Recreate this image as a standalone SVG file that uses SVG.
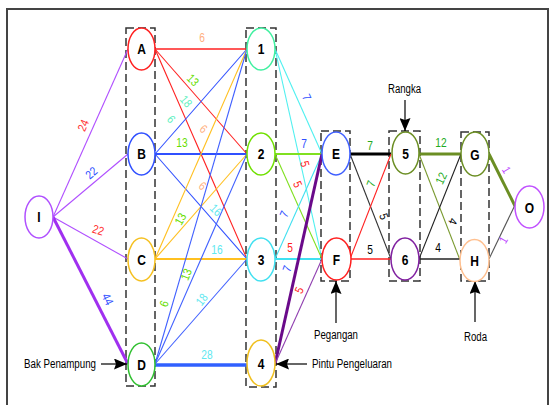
<svg xmlns="http://www.w3.org/2000/svg" width="551" height="405" viewBox="0 0 551 405">
<style>
.nd{fill:#fff;stroke-width:1.5}
.nt{font-family:"Liberation Sans",Arial,sans-serif;font-weight:bold;font-size:15px;text-anchor:middle;fill:#000}
.lb{font-family:"Liberation Sans",Arial,sans-serif;font-size:12px;text-anchor:middle}
.an{font-family:"Liberation Sans",Arial,sans-serif;font-size:12px;fill:#000}
.box{fill:none;stroke:#333;stroke-width:1.5;stroke-dasharray:8 4}
.e{fill:none;stroke-width:1.1}
.m{stroke-width:1.8}
.t{stroke-width:3}
.ar{stroke:#000;stroke-width:1.2}
</style>
<defs>
<marker id="ah" markerWidth="13" markerHeight="11" refX="13" refY="5.5" orient="auto" markerUnits="userSpaceOnUse"><path d="M0,0 L13,5.5 L0,11 L2,5.5 Z" fill="#000"/></marker>
</defs>
<rect x="0" y="0" width="551" height="405" fill="#fff"/>
<rect x="7" y="9" width="541" height="410" fill="none" stroke="#444" stroke-width="2"/>

<g id="groups">
<rect class="box" x="126" y="28" width="29" height="358"/>
<rect class="box" x="246" y="28" width="30" height="359"/>
<rect class="box" x="321" y="131" width="29" height="150"/>
<rect class="box" x="389" y="131" width="31" height="150"/>
<rect class="box" x="461" y="132" width="28" height="149"/>
</g>

<g id="connectors">
<line class="e" x1="53" y1="217" x2="128" y2="49" stroke="#b050ff"/>
<line class="e" x1="53" y1="217" x2="128" y2="154" stroke="#b050ff"/>
<line class="e" x1="53" y1="217" x2="128" y2="259" stroke="#b050ff"/>
<line class="e t" x1="53" y1="217" x2="128" y2="364" stroke="#a030f0"/>
<line class="e" x1="155" y1="49" x2="247" y2="49" stroke="#ff2020" style="stroke-width:1.5"/>
<line class="e" x1="155" y1="49" x2="247" y2="154" stroke="#ff2020"/>
<line class="e" x1="155" y1="49" x2="247" y2="259" stroke="#ff2020"/>
<line class="e" x1="155" y1="154" x2="247" y2="49" stroke="#3050ff"/>
<line class="e m" x1="155" y1="154" x2="247" y2="154" stroke="#3050ff"/>
<line class="e" x1="155" y1="154" x2="247" y2="259" stroke="#3050ff"/>
<line class="e" x1="155" y1="259" x2="247" y2="49" stroke="#ffc020"/>
<line class="e" x1="155" y1="259" x2="247" y2="154" stroke="#ffc020"/>
<line class="e m" x1="155" y1="259" x2="247" y2="259" stroke="#ffc020"/>
<line class="e" x1="155" y1="364" x2="247" y2="49" stroke="#4060ff"/>
<line class="e" x1="155" y1="364" x2="247" y2="154" stroke="#4060ff"/>
<line class="e" x1="155" y1="364" x2="247" y2="259" stroke="#4060ff"/>
<line class="e" x1="155" y1="365" x2="247" y2="365" stroke="#3060ff" style="stroke-width:3.5"/>
<line class="e" x1="275" y1="49" x2="322" y2="154" stroke="#50f0f0"/>
<line class="e" x1="275" y1="49" x2="322" y2="259" stroke="#50f0f0"/>
<line class="e m" x1="275" y1="154" x2="322" y2="154" stroke="#80e020"/>
<line class="e" x1="275" y1="154" x2="322" y2="259" stroke="#80e020"/>
<line class="e" x1="275" y1="259" x2="322" y2="154" stroke="#40e0f0"/>
<line class="e m" x1="275" y1="259" x2="322" y2="259" stroke="#40e0f0"/>
<line class="e t" x1="275" y1="364" x2="322" y2="154" stroke="#6a0a8a"/>
<line class="e" x1="275" y1="364" x2="322" y2="259" stroke="#9040b0"/>
<line class="e t" x1="350" y1="154" x2="391" y2="154" stroke="#000"/>
<line class="e" x1="350" y1="154" x2="391" y2="259" stroke="#333"/>
<line class="e" x1="350" y1="259" x2="391" y2="154" stroke="#ff2020"/>
<line class="e" x1="350" y1="259" x2="391" y2="259" stroke="#ff2020" style="stroke-width:1.5"/>
<line class="e t" x1="419" y1="154" x2="461" y2="154" stroke="#6b8e23"/>
<line class="e" x1="419" y1="154" x2="460" y2="260" stroke="#7a9a30"/>
<line class="e" x1="419" y1="259" x2="461" y2="154" stroke="#222"/>
<line class="e" x1="419" y1="259" x2="460" y2="259" stroke="#222" style="stroke-width:1.3"/>
<line class="e t" x1="489" y1="154" x2="515" y2="206" stroke="#6b8e23"/>
<line class="e" x1="489" y1="259" x2="515" y2="205" stroke="#555"/>
<line class="ar" x1="101" y1="364" x2="127" y2="364" marker-end="url(#ah)"/>
<line class="ar" x1="307" y1="364" x2="276" y2="364" marker-end="url(#ah)"/>
<line class="ar" x1="336" y1="323" x2="336" y2="281" marker-end="url(#ah)"/>
<line class="ar" x1="405" y1="100" x2="405" y2="131" marker-end="url(#ah)"/>
<line class="ar" x1="475" y1="322" x2="475" y2="281" marker-end="url(#ah)"/>
</g>

<g id="edge-labels">
<text class="lb" fill="#ff3030" transform="translate(87,127) rotate(-66) scale(0.85,1)">24</text>
<text class="lb" fill="#3050ff" transform="translate(94,176) rotate(-40) scale(0.85,1)">22</text>
<text class="lb" fill="#ff3030" transform="translate(97,234) rotate(18) scale(0.85,1)">22</text>
<text class="lb" fill="#3050ff" transform="translate(104,301) rotate(65) scale(0.85,1)">44</text>

<text class="lb" fill="#ffb080" transform="translate(202,42) scale(0.85,1)">6</text>
<text class="lb" fill="#66dd00" transform="translate(190,83) rotate(45) scale(0.85,1)">13</text>
<text class="lb" fill="#60f0c0" transform="translate(183,104) rotate(50) scale(0.85,1)">18</text>
<text class="lb" fill="#60f0c0" transform="translate(168,122) rotate(50) scale(0.85,1)">6</text>
<text class="lb" fill="#66dd00" transform="translate(182,147) scale(0.85,1)">13</text>
<text class="lb" fill="#ffb080" transform="translate(201,132) rotate(40) scale(0.85,1)">6</text>
<text class="lb" fill="#ffb080" transform="translate(200,189) rotate(40) scale(0.85,1)">6</text>
<text class="lb" fill="#60e8f0" transform="translate(213,213) rotate(45) scale(0.85,1)">16</text>
<text class="lb" fill="#66dd00" transform="translate(184,221) rotate(-60) scale(0.85,1)">13</text>
<text class="lb" fill="#60e8f0" transform="translate(217,254) scale(0.85,1)">16</text>
<text class="lb" fill="#66dd00" transform="translate(168,305) rotate(-70) scale(0.85,1)">6</text>
<text class="lb" fill="#66dd00" transform="translate(190,276) rotate(-68) scale(0.85,1)">13</text>
<text class="lb" fill="#60e8f0" transform="translate(205,302) rotate(-52) scale(0.85,1)">18</text>
<text class="lb" fill="#60e8f0" transform="translate(207,359) scale(0.85,1)">28</text>

<text class="lb" fill="#3050ff" transform="translate(303,99) rotate(65) scale(0.85,1)">7</text>
<text class="lb" fill="#3050ff" transform="translate(304,148) scale(0.85,1)">7</text>
<text class="lb" fill="#ff2020" transform="translate(301,165) rotate(75) scale(0.85,1)">5</text>
<text class="lb" fill="#ff2020" transform="translate(294,186) rotate(65) scale(0.85,1)">5</text>
<text class="lb" fill="#3050ff" transform="translate(288,216) rotate(-65) scale(0.85,1)">7</text>
<text class="lb" fill="#ff2020" transform="translate(290,252) scale(0.85,1)">5</text>
<text class="lb" fill="#3050ff" transform="translate(291,270) rotate(-70) scale(0.85,1)">7</text>
<text class="lb" fill="#ff2020" transform="translate(303,292) rotate(-65) scale(0.85,1)">5</text>

<text class="lb" fill="#22aa22" transform="translate(370,150) scale(0.85,1)">7</text>
<text class="lb" fill="#22aa22" transform="translate(375,185) rotate(-70) scale(0.85,1)">7</text>
<text class="lb" fill="#000" transform="translate(380,218) rotate(70) scale(0.85,1)">5</text>
<text class="lb" fill="#000" transform="translate(370,254) scale(0.85,1)">5</text>

<text class="lb" fill="#22aa22" transform="translate(441,147) scale(0.85,1)">12</text>
<text class="lb" fill="#22aa22" transform="translate(445,180) rotate(-65) scale(0.85,1)">12</text>
<text class="lb" fill="#000" transform="translate(449,220) rotate(110) scale(0.85,1)">4</text>
<text class="lb" fill="#000" transform="translate(438,252) scale(0.85,1)">4</text>

<text class="lb" fill="#c050ff" transform="translate(503,172) rotate(60) scale(0.85,1)">1</text>
<text class="lb" fill="#c050ff" transform="translate(507,242) rotate(-60) scale(0.85,1)">1</text>
</g>

<g id="node-I"><ellipse class="nd" cx="39" cy="217" rx="14" ry="21" stroke="#b050ff"/><text class="nt" transform="translate(39,222) scale(0.8,1)">I</text></g>
<g id="node-A"><ellipse class="nd" cx="141.5" cy="49" rx="13.5" ry="21" stroke="#ff2020"/><text class="nt" transform="translate(141.5,54) scale(0.8,1)">A</text></g>
<g id="node-B"><ellipse class="nd" cx="141.5" cy="154" rx="13.5" ry="21" stroke="#3050ff"/><text class="nt" transform="translate(141.5,159) scale(0.8,1)">B</text></g>
<g id="node-C"><ellipse class="nd" cx="141.5" cy="259.5" rx="13.5" ry="21.5" stroke="#f5c020"/><text class="nt" transform="translate(141.5,265) scale(0.8,1)">C</text></g>
<g id="node-D"><ellipse class="nd" cx="141.5" cy="364.5" rx="13.5" ry="21.5" stroke="#30c030"/><text class="nt" transform="translate(141.5,370) scale(0.8,1)">D</text></g>
<g id="node-1"><ellipse class="nd" cx="261" cy="49" rx="14" ry="21" stroke="#40f0a0"/><text class="nt" transform="translate(261,54) scale(0.8,1)">1</text></g>
<g id="node-2"><ellipse class="nd" cx="261" cy="154" rx="14" ry="21" stroke="#70e000"/><text class="nt" transform="translate(261,159) scale(0.8,1)">2</text></g>
<g id="node-3"><ellipse class="nd" cx="261" cy="259.5" rx="14" ry="21.5" stroke="#40e0f0"/><text class="nt" transform="translate(261,265) scale(0.8,1)">3</text></g>
<g id="node-4"><ellipse class="nd" cx="261" cy="363" rx="14" ry="23" stroke="#f0c020"/><text class="nt" transform="translate(261,368.5) scale(0.8,1)">4</text></g>
<g id="node-E"><ellipse class="nd" cx="336" cy="153.5" rx="14" ry="21.5" stroke="#4060ff"/><text class="nt" transform="translate(336,159) scale(0.8,1)">E</text></g>
<g id="node-F"><ellipse class="nd" cx="336.5" cy="259" rx="14.5" ry="21" stroke="#ff2020"/><text class="nt" transform="translate(336.5,264.5) scale(0.8,1)">F</text></g>
<g id="node-5"><ellipse class="nd" cx="405.5" cy="153" rx="13.5" ry="21" stroke="#6b8e23"/><text class="nt" transform="translate(405.5,158.5) scale(0.8,1)">5</text></g>
<g id="node-6"><ellipse class="nd" cx="405" cy="259" rx="14" ry="21" stroke="#8020a0"/><text class="nt" transform="translate(405,264.5) scale(0.8,1)">6</text></g>
<g id="node-G"><ellipse class="nd" cx="475" cy="154" rx="14" ry="22" stroke="#6b8e23"/><text class="nt" transform="translate(475,159.5) scale(0.8,1)">G</text></g>
<g id="node-H"><ellipse class="nd" cx="474.5" cy="260.5" rx="14.5" ry="21" stroke="#ffc090"/><text class="nt" transform="translate(474.5,266) scale(0.8,1)">H</text></g>
<g id="node-O"><ellipse class="nd" cx="529.5" cy="207" rx="14.5" ry="21" stroke="#c050ff"/><text class="nt" transform="translate(529.5,212.5) scale(0.8,1)">O</text></g>

<g id="annotations">
<text class="an" x="24" y="368" textLength="72" lengthAdjust="spacingAndGlyphs">Bak Penampung</text>
<text class="an" x="312" y="368" textLength="80" lengthAdjust="spacingAndGlyphs">Pintu Pengeluaran</text>
<text class="an" x="314" y="339" textLength="44" lengthAdjust="spacingAndGlyphs">Pegangan</text>
<text class="an" x="388" y="93" textLength="33" lengthAdjust="spacingAndGlyphs">Rangka</text>
<text class="an" x="464" y="341" textLength="23" lengthAdjust="spacingAndGlyphs">Roda</text>
</g>
</svg>
